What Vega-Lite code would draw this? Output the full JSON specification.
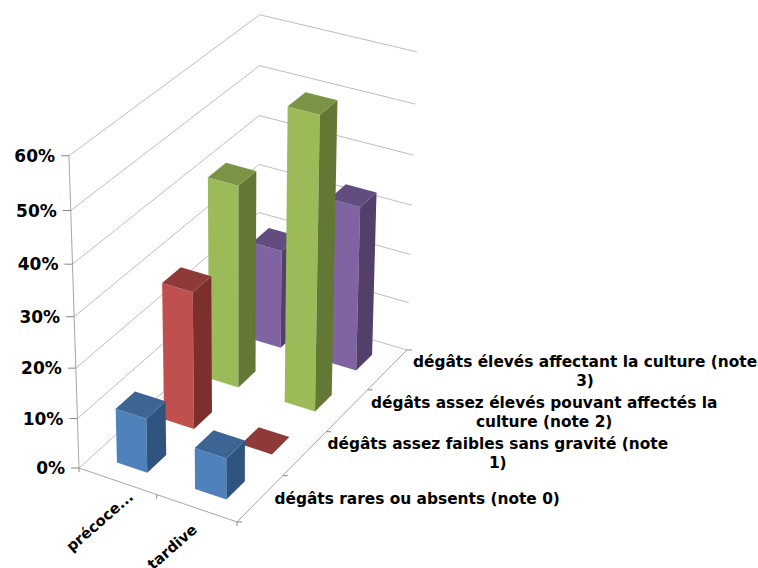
{
  "$schema": "https://vega.github.io/schema/vega-lite/v6.json",
  "width": 758,
  "height": 568,
  "padding": 0,
  "autosize": "none",
  "background": "white",
  "view": {"stroke": null},
  "datasets": {
    "bars": [
      {"category": "précoce...", "note": 3, "value": 20.3},
      {"category": "tardive", "note": 3, "value": 33.5},
      {"category": "précoce...", "note": 2, "value": 40.8},
      {"category": "tardive", "note": 2, "value": 58.3},
      {"category": "précoce...", "note": 1, "value": 27.6},
      {"category": "tardive", "note": 1, "value": 0},
      {"category": "précoce...", "note": 0, "value": 10.9},
      {"category": "tardive", "note": 0, "value": 8.2}
    ],
    "levels": [{"pct": 0}, {"pct": 10}, {"pct": 20}, {"pct": 30}, {"pct": 40}, {"pct": 50}, {"pct": 60}],
    "catEdges": [{"edge": 0}, {"edge": 1}, {"edge": 2}],
    "noteEdges": [{"edge": 0}, {"edge": 1}, {"edge": 2}, {"edge": 3}, {"edge": 4}],
    "catLabels": [{"i": 0, "label": "précoce..."}, {"i": 1, "label": "tardive"}],
    "noteLabels": [
      {"note": 0, "label": "dégâts rares ou absents (note 0)"},
      {"note": 1, "label": "dégâts assez faibles sans gravité (note\n1)"},
      {"note": 2, "label": "dégâts assez élevés pouvant affectés la\nculture (note 2)"},
      {"note": 3, "label": "dégâts élevés affectant la culture (note\n3)"}
    ]
  },
  "layer": [
    {
      "data": {"name": "levels"},
      "transform": [
        {"calculate": "[0,1,2]", "as": "stop"},
        {"flatten": ["stop"]},
        {"calculate": "[0,0,1][datum.stop]", "as": "u"},
        {"calculate": "[0,1,1][datum.stop]", "as": "v"},
        {"calculate": "datum.pct/60", "as": "w"},
        {"calculate": "1-0.0325*datum.u+0.1011*datum.v-0.06*datum.w", "as": "W"},
        {"calculate": "(79+150.3*datum.u+205.6*datum.v-14.14*datum.w)/datum.W", "as": "X"},
        {"calculate": "(468+37*datum.u-131*datum.v-321.6*datum.w)/datum.W", "as": "Y"}
      ],
      "mark": {"type": "line", "color": "#BDBDBD", "strokeWidth": 1},
      "encoding": {
        "x": {"field": "X", "type": "quantitative", "scale": {"domain": [0, 758], "nice": false, "zero": false}, "axis": null},
        "y": {"field": "Y", "type": "quantitative", "scale": {"domain": [568, 0], "nice": false, "zero": false}, "axis": null},
        "detail": {"field": "pct"},
        "order": {"field": "stop"}
      }
    },
    {
      "data": {"name": "levels"},
      "transform": [
        {"calculate": "datum.pct/60", "as": "w"},
        {"calculate": "1-0.06*datum.w", "as": "W"},
        {"calculate": "(79-14.14*datum.w)/datum.W", "as": "X"},
        {"calculate": "(468-321.6*datum.w)/datum.W", "as": "Y"},
        {"calculate": "datum.X-8", "as": "Xt"}
      ],
      "layer": [
        {
          "mark": {"type": "line", "color": "#A6A6A6", "strokeWidth": 1},
          "encoding": {
            "x": {"field": "X", "type": "quantitative", "axis": null},
            "y": {"field": "Y", "type": "quantitative", "axis": null},
            "order": {"field": "pct"}
          }
        },
        {
          "mark": {"type": "rule", "color": "#868686", "strokeWidth": 1},
          "encoding": {
            "x": {"field": "Xt", "type": "quantitative", "axis": null},
            "x2": {"field": "X"},
            "y": {"field": "Y", "type": "quantitative", "axis": null}
          }
        }
      ]
    },
    {
      "data": {"name": "catEdges"},
      "transform": [
        {"calculate": "datum.edge/2", "as": "u"},
        {"calculate": "1-0.0325*datum.u", "as": "W"},
        {"calculate": "(79+150.3*datum.u)/datum.W", "as": "X"},
        {"calculate": "(468+37*datum.u)/datum.W", "as": "Y"},
        {"calculate": "datum.Y+4", "as": "Yt"}
      ],
      "layer": [
        {
          "mark": {"type": "line", "color": "#A6A6A6", "strokeWidth": 1},
          "encoding": {
            "x": {"field": "X", "type": "quantitative", "axis": null},
            "y": {"field": "Y", "type": "quantitative", "axis": null},
            "order": {"field": "edge"}
          }
        },
        {
          "mark": {"type": "rule", "color": "#868686", "strokeWidth": 1},
          "encoding": {
            "x": {"field": "X", "type": "quantitative", "axis": null},
            "y": {"field": "Y", "type": "quantitative", "axis": null},
            "y2": {"field": "Yt"}
          }
        }
      ]
    },
    {
      "data": {"name": "noteEdges"},
      "transform": [
        {"calculate": "datum.edge/4", "as": "v"},
        {"calculate": "0.9675+0.1011*datum.v", "as": "W"},
        {"calculate": "(229.3+205.6*datum.v)/datum.W", "as": "X"},
        {"calculate": "(505-131*datum.v)/datum.W", "as": "Y"},
        {"calculate": "datum.X+5", "as": "Xt"}
      ],
      "layer": [
        {
          "mark": {"type": "line", "color": "#A6A6A6", "strokeWidth": 1},
          "encoding": {
            "x": {"field": "X", "type": "quantitative", "axis": null},
            "y": {"field": "Y", "type": "quantitative", "axis": null},
            "order": {"field": "edge"}
          }
        },
        {
          "mark": {"type": "rule", "color": "#868686", "strokeWidth": 1},
          "encoding": {
            "x": {"field": "X", "type": "quantitative", "axis": null},
            "x2": {"field": "Xt"},
            "y": {"field": "Y", "type": "quantitative", "axis": null}
          }
        }
      ]
    },
    {
      "data": {"name": "bars"},
      "transform": [
        {"calculate": "['front','side','top']", "as": "face"},
        {"flatten": ["face"]},
        {"calculate": "[0,1,2,3]", "as": "vertex"},
        {"flatten": ["vertex"]},
        {"calculate": "indexof(['précoce...','tardive'],datum.category)", "as": "c"},
        {"calculate": "(datum.c+0.5)*0.5-0.098", "as": "uL"},
        {"calculate": "(datum.c+0.5)*0.5+0.098", "as": "uR"},
        {"calculate": "(datum.note+0.5)*0.25-0.05", "as": "vF"},
        {"calculate": "(datum.note+0.5)*0.25+0.05", "as": "vB"},
        {"calculate": "datum.value/60", "as": "h"},
        {"calculate": "datum.face=='side'?datum.uR:[datum.uL,datum.uR,datum.uR,datum.uL][datum.vertex]", "as": "u"},
        {"calculate": "datum.face=='front'?datum.vF:datum.face=='side'?[datum.vF,datum.vB,datum.vB,datum.vF][datum.vertex]:[datum.vF,datum.vF,datum.vB,datum.vB][datum.vertex]", "as": "v"},
        {"calculate": "datum.face=='top'?datum.h:[0,0,datum.h,datum.h][datum.vertex]", "as": "w"},
        {"calculate": "1-0.0325*datum.u+0.1011*datum.v-0.06*datum.w", "as": "W"},
        {"calculate": "(79+150.3*datum.u+205.6*datum.v-14.14*datum.w)/datum.W", "as": "X"},
        {"calculate": "(468+37*datum.u-131*datum.v-321.6*datum.w)/datum.W", "as": "Y"},
        {"calculate": "datum.note+'-'+datum.face", "as": "shade"}
      ],
      "mark": {"type": "line", "filled": true, "interpolate": "linear-closed", "strokeWidth": 0},
      "encoding": {
        "x": {"field": "X", "type": "quantitative", "axis": null},
        "y": {"field": "Y", "type": "quantitative", "axis": null},
        "detail": {"field": "category"},
        "order": {"field": "vertex"},
        "color": {
          "field": "shade",
          "type": "nominal",
          "legend": null,
          "scale": {
            "domain": ["0-front", "0-side", "0-top", "1-front", "1-side", "1-top", "2-front", "2-side", "2-top", "3-front", "3-side", "3-top"],
            "range": ["#4F81BD", "#2F5480", "#3C6594", "#C0504D", "#7C302E", "#8E3A38", "#9BBB59", "#647836", "#7A9345", "#8064A2", "#523F6A", "#634D7F"]
          }
        }
      }
    },
    {
      "data": {"name": "levels"},
      "transform": [
        {"calculate": "datum.pct/60", "as": "w"},
        {"calculate": "1-0.06*datum.w", "as": "W"},
        {"calculate": "(79-14.14*datum.w)/datum.W-14", "as": "X"},
        {"calculate": "(468-321.6*datum.w)/datum.W+1", "as": "Y"},
        {"calculate": "datum.pct+'%'", "as": "label"}
      ],
      "mark": {"type": "text", "align": "right", "baseline": "middle", "font": "DejaVu Sans", "fontWeight": "bold", "fontSize": 17, "color": "#000000"},
      "encoding": {
        "x": {"field": "X", "type": "quantitative", "axis": null},
        "y": {"field": "Y", "type": "quantitative", "axis": null},
        "text": {"field": "label"}
      }
    },
    {
      "data": {"name": "catLabels"},
      "transform": [
        {"calculate": "(datum.i+0.5)*0.5", "as": "u"},
        {"calculate": "1-0.0325*datum.u", "as": "W"},
        {"calculate": "(79+150.3*datum.u)/datum.W+[14,-1][datum.i]", "as": "X"},
        {"calculate": "(468+37*datum.u)/datum.W+[14,20][datum.i]", "as": "Y"}
      ],
      "mark": {"type": "text", "align": "right", "baseline": "middle", "angle": 319, "font": "DejaVu Sans", "fontWeight": "bold", "fontSize": 14.8, "color": "#000000"},
      "encoding": {
        "x": {"field": "X", "type": "quantitative", "axis": null},
        "y": {"field": "Y", "type": "quantitative", "axis": null},
        "text": {"field": "label"}
      }
    },
    {
      "data": {"name": "noteLabels"},
      "transform": [
        {"calculate": "(datum.note+0.5)*0.25", "as": "v"},
        {"calculate": "0.9675+0.1011*datum.v", "as": "W"},
        {"calculate": "(229.3+205.6*datum.v)/datum.W+[157,193,197,197.5][datum.note]", "as": "X"},
        {"calculate": "(505-131*datum.v)/datum.W+[0,-9,-8,-8][datum.note]", "as": "Y"}
      ],
      "mark": {"type": "text", "align": "center", "baseline": "middle", "lineBreak": "\n", "lineHeight": 19, "font": "DejaVu Sans", "fontWeight": "bold", "fontSize": 15.4, "color": "#000000"},
      "encoding": {
        "x": {"field": "X", "type": "quantitative", "axis": null},
        "y": {"field": "Y", "type": "quantitative", "axis": null},
        "text": {"field": "label"}
      }
    }
  ]
}
